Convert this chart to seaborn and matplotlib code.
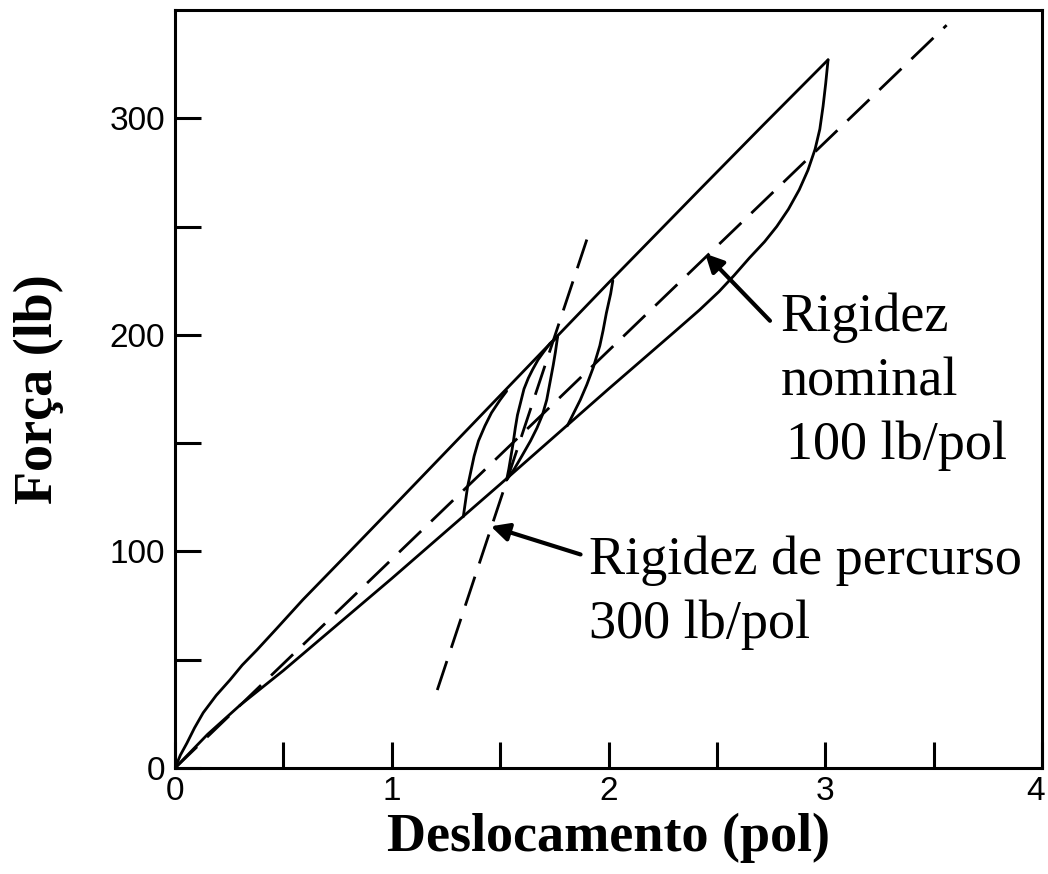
import matplotlib
matplotlib.use("Agg")
import matplotlib.pyplot as plt
import matplotlib.transforms as mtransforms
import seaborn as sns
from matplotlib.ticker import FixedLocator

# Force-displacement hysteresis of the suspension
upper_x = [0.0, 0.025, 0.055, 0.09, 0.13, 0.19, 0.254, 0.31, 0.378, 0.47, 0.59, 0.8, 1.0, 1.5, 2.0, 2.42, 2.71, 3.013]
upper_y = [0, 6, 11.5, 18.5, 25.5, 33.5, 40.7, 47.5, 54.5, 64.5, 77.7, 99.3, 120, 172, 224, 267, 296.5, 327]

lower_x = [0.0, 0.15, 0.3, 0.5, 1.0, 1.5, 2.0, 2.3, 2.42, 2.51, 2.58, 2.65, 2.72, 2.776, 2.83, 2.88, 2.92, 2.953, 2.975, 2.99, 3.002, 3.013]
lower_y = [0, 15.5, 29, 45, 87.5, 131, 175, 201, 211.5, 220, 227.5, 235.5, 243, 250, 258, 267, 276, 285.7, 295, 305.6, 316, 327]

# Minor loops
loop_right_x = [2.02, 2.01, 1.99, 1.975, 1.96, 1.93, 1.90, 1.87, 1.84, 1.81]
loop_right_y = [225, 219, 210, 202, 195, 185, 177, 170, 164, 158]

loop_left_x = [1.33, 1.34, 1.35, 1.365, 1.38, 1.40, 1.43, 1.46, 1.50, 1.53]
loop_left_y = [116, 123, 130, 137, 144, 151, 158, 164, 170, 174]

lens_a_x = [1.765, 1.755, 1.745, 1.73, 1.715, 1.695, 1.67, 1.64, 1.60, 1.565, 1.53]
lens_a_y = [199, 192, 186, 178, 170, 163, 157, 151, 144, 138, 133]

lens_b_x = [1.765, 1.73, 1.70, 1.675, 1.65, 1.63, 1.61, 1.595, 1.58, 1.57, 1.56, 1.55, 1.54, 1.53]
lens_b_y = [199, 196, 192, 188.5, 184, 180, 175, 169, 163, 157, 150, 144, 138, 133]

# Reference stiffness lines
nominal_x = [0.0, 3.56]
nominal_y = [0, 343]

travel_x = [1.21, 1.90]
travel_y = [36, 244]

x_labels = ["0", "1", "2", "3", "4"]
y_labels = ["0", "100", "200", "300"]

sns.set_theme(style="white")
plt.rcParams["font.family"] = ["Liberation Sans", "DejaVu Sans"]

fig = plt.figure(figsize=(10.48, 8.74), dpi=100)
ax = fig.add_axes([175 / 1048, 1 - 768 / 874, (1042 - 175) / 1048, (768 - 10) / 874])

solid = dict(color="black", linewidth=2.0, sort=False, estimator=None, ax=ax)
dashed = dict(color="black", linewidth=2.0, sort=False, estimator=None, ax=ax,
              linestyle=(0, (11, 5)))

for xs, ys in [(upper_x, upper_y), (lower_x, lower_y),
               (loop_right_x, loop_right_y), (loop_left_x, loop_left_y),
               (lens_a_x, lens_a_y), (lens_b_x, lens_b_y)]:
    sns.lineplot(x=xs, y=ys, **solid)

sns.lineplot(x=nominal_x, y=nominal_y, **dashed)
sns.lineplot(x=travel_x, y=travel_y, **dashed)

ax.set_xlim(0, 4)
ax.set_ylim(0, 350)

ax.set_xticks(range(len(x_labels)))
ax.set_xticklabels(x_labels)
ax.xaxis.set_minor_locator(FixedLocator([0.5, 1.5, 2.5, 3.5]))
ax.set_yticks([0, 100, 200, 300])
ax.set_yticklabels(y_labels)
ax.yaxis.set_minor_locator(FixedLocator([50, 150, 250]))

ax.tick_params(which="both", direction="in", length=19, width=2.2, color="black",
               bottom=True, left=True, top=False, right=False)
ax.tick_params(which="major", labelsize=24, pad=6, labelcolor="black")
ax.tick_params(axis="y", which="major", pad=7)

# keep the last x label inside the figure edge
last = ax.get_xticklabels()[-1]
last.set_transform(last.get_transform() +
                   mtransforms.ScaledTranslation(-6 / 100, 0, fig.dpi_scale_trans))

for s in ax.spines.values():
    s.set_color("black")
    s.set_linewidth(2.2)

serif = ["Liberation Serif", "DejaVu Serif"]
ax.set_xlabel("Deslocamento (pol)", family=serif, fontweight="bold", fontsize=39,
              color="black", labelpad=4)
ax.set_ylabel("Força (lb)", family=serif, fontweight="bold", fontsize=39,
              color="black", labelpad=33)

# Annotations
for txt, yy, dx in [("Rigidez", 201.9, 0.0), ("nominal", 171.8, 0.0), ("100 lb/pol", 142.6, 0.025)]:
    ax.text(2.795 + dx, yy, txt, family=serif, fontsize=39, color="black", va="baseline", ha="left")
for txt, yy in [("Rigidez de percurso", 89.4), ("300 lb/pol", 60.2)]:
    ax.text(1.908, yy, txt, family=serif, fontsize=39, color="black", va="baseline", ha="left")

arrow = dict(arrowstyle="-|>,head_length=0.9,head_width=0.45", lw=3, color="black",
             shrinkA=0, shrinkB=0)
ax.annotate("", xy=(2.446, 237.5), xytext=(2.745, 206.5), arrowprops=arrow)
ax.annotate("", xy=(1.457, 111.6), xytext=(1.871, 98.6), arrowprops=arrow)

fig.savefig("out.png", dpi=100)
